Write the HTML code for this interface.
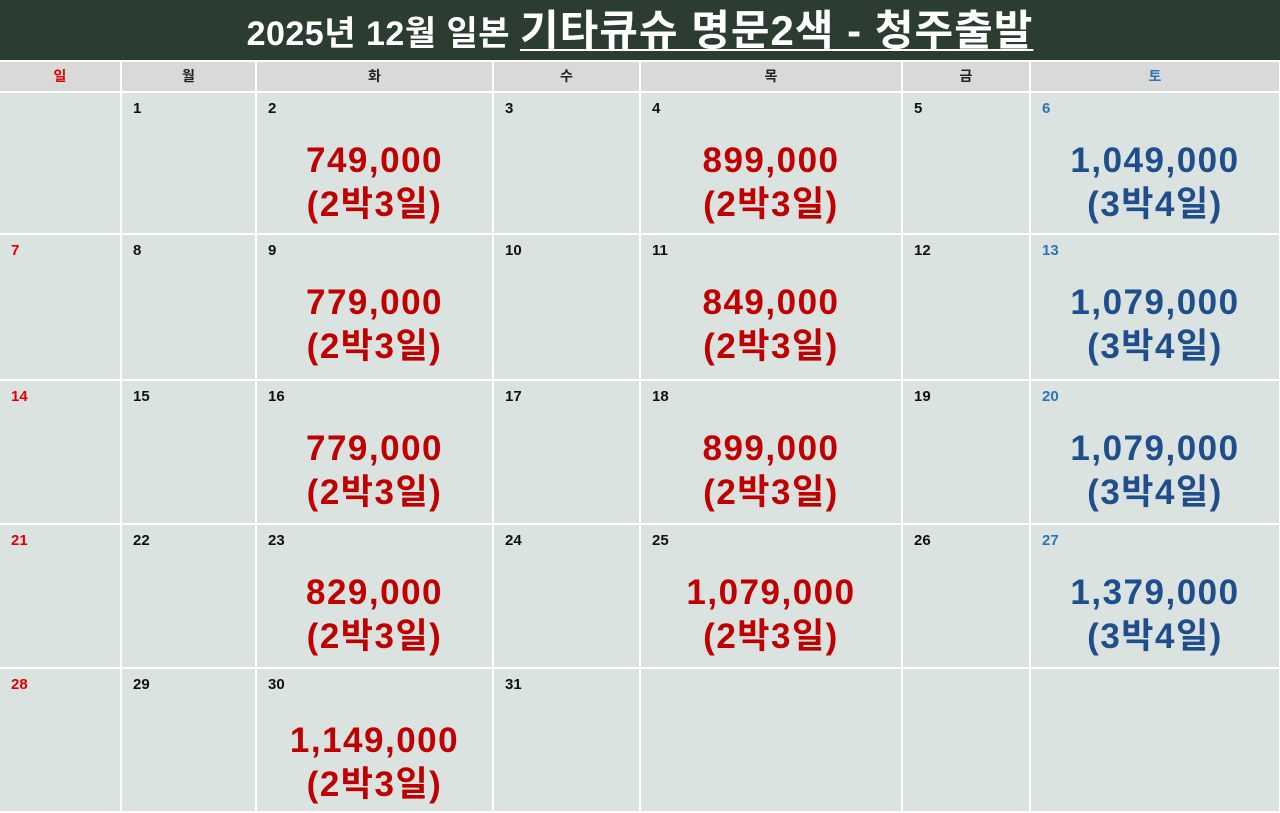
<!DOCTYPE html>
<html><head><meta charset="utf-8"><style>
body{margin:0;width:1280px;height:813px;background:#fff;position:relative;overflow:hidden;font-family:"Liberation Sans","Noto Sans CJK KR",sans-serif}
.t{position:absolute;left:0;top:0;width:1280px;height:60px;background:#2b3d31;color:#fff;font-weight:bold;font-size:34px;text-align:center;line-height:62px;letter-spacing:0.5px}
.t u{font-size:42px;text-decoration-thickness:2px;text-underline-offset:4px;letter-spacing:1px}
.h{position:absolute;top:62px;height:29px;background:#d9d9d9;font-size:14px;font-weight:bold;text-align:center;line-height:29px}
.c{position:absolute;background:#dae3df}
.d{position:absolute;left:11px;top:7px;font-size:15px;font-weight:bold;color:#111}
.p{position:absolute;left:0;right:0;top:46px;text-align:center;font-weight:bold;font-size:35px;line-height:44px;letter-spacing:1.5px}
.r{color:#c00000}.b{color:#1f4e8c}
</style></head><body>
<div class="t">2025년 12월 일본 <u>기타큐슈 명문2색 - 청주출발</u></div>
<div id="g"></div>
<script>
var L=[0,122,257,494,641,903,1031,1281];
var T=[93,235,381,525,669,813];
var names=["일","월","화","수","목","금","토"];
var h="";
for(var i=0;i<7;i++){var col=i==0?"#e00000":i==6?"#2e75b6":"#222";
h+='<div class="h" style="left:'+L[i]+'px;width:'+(L[i+1]-L[i]-2)+'px;color:'+col+'">'+names[i]+'</div>';}
var prices={2:["749,000","r"],4:["899,000","r"],6:["1,049,000","b"],9:["779,000","r"],11:["849,000","r"],13:["1,079,000","b"],16:["779,000","r"],18:["899,000","r"],20:["1,079,000","b"],23:["829,000","r"],25:["1,079,000","r"],27:["1,379,000","b"],30:["1,149,000","r"]};
for(var r=0;r<5;r++)for(var c=0;c<7;c++){
var day=r*7+c; 
var s='<div class="c" style="left:'+L[c]+'px;top:'+T[r]+'px;width:'+(L[c+1]-L[c]-2)+'px;height:'+(T[r+1]-T[r]-2)+'px">';
if(day>=1&&day<=31){var col=c==0?"#e00000":c==6?"#2e75b6":"#111";
s+='<div class="d" style="color:'+col+'">'+day+'</div>';
if(prices[day]){var p=prices[day];s+='<div class="p '+p[1]+'"'+(day==30?' style="top:50px"':'')+'>'+p[0]+'<br>('+(p[1]=="b"?"3박4일":"2박3일")+')</div>';}}
s+='</div>';h+=s;}
document.getElementById("g").innerHTML=h;
</script>
</body></html>
